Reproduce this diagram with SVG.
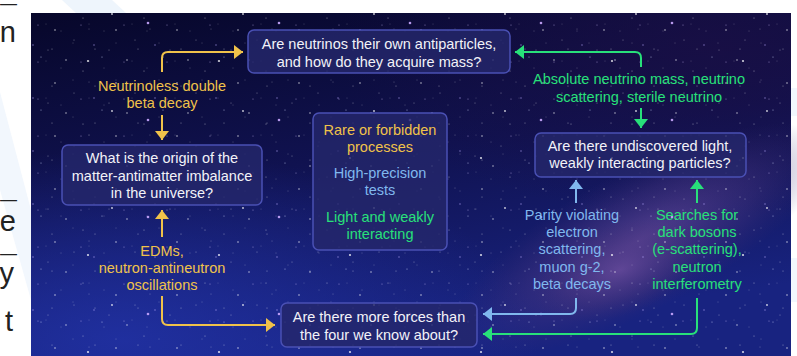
<svg xmlns="http://www.w3.org/2000/svg" width="797" height="356" viewBox="0 0 797 356">
<defs>
<style>
.box{fill:#25276b;fill-opacity:0.82;stroke:#4a50b4;stroke-width:1.5}
.t{font-family:"Liberation Sans",Arial,sans-serif;font-size:14.5px;text-anchor:middle}
.w{fill:#f2f2f8}
.y{fill:#f0c24a}
.g{fill:#28e07a}
.b{fill:#80b8ee}
.m{font-family:"Liberation Sans",Arial,sans-serif;font-size:29px;fill:#222;text-anchor:end}
.d{font-size:17px}
.cy{fill:none;stroke:#f0c24a;stroke-width:2}
.cg{fill:none;stroke:#28e07a;stroke-width:2}
.cb{fill:none;stroke:#80b8ee;stroke-width:2}
</style>
<marker id="ay" markerUnits="userSpaceOnUse" markerWidth="12" markerHeight="14" refX="9" refY="7" orient="auto"><path d="M0,0 L9,7 L0,14 Z" fill="#f0c24a"/></marker>
<marker id="ag" markerUnits="userSpaceOnUse" markerWidth="12" markerHeight="14" refX="9" refY="7" orient="auto"><path d="M0,0 L9,7 L0,14 Z" fill="#28e07a"/></marker>
<marker id="ab" markerUnits="userSpaceOnUse" markerWidth="12" markerHeight="14" refX="9" refY="7" orient="auto"><path d="M0,0 L9,7 L0,14 Z" fill="#80b8ee"/></marker>
<linearGradient id="bg" x1="0" y1="0" x2="0.3" y2="1">
<stop offset="0" stop-color="#07072a"/>
<stop offset="0.5" stop-color="#101250"/>
<stop offset="1" stop-color="#182380"/>
</linearGradient>
<radialGradient id="blueglow" cx="0.12" cy="0.95" r="0.55">
<stop offset="0" stop-color="#2233a8" stop-opacity="0.8"/>
<stop offset="1" stop-color="#2233a8" stop-opacity="0"/>
</radialGradient>
<radialGradient id="milky" cx="0.5" cy="0.5" r="0.5">
<stop offset="0" stop-color="#6a4c9c" stop-opacity="0.75"/>
<stop offset="0.6" stop-color="#4a3680" stop-opacity="0.4"/>
<stop offset="1" stop-color="#3a2a70" stop-opacity="0"/>
</radialGradient>
<radialGradient id="rdark" cx="0.9" cy="0.1" r="0.5">
<stop offset="0" stop-color="#1a0f45" stop-opacity="0.8"/>
<stop offset="1" stop-color="#1a0f45" stop-opacity="0"/>
</radialGradient>
<pattern id="stars1" width="61" height="53" patternUnits="userSpaceOnUse">
<circle cx="5" cy="7" r="0.7" fill="#fff" opacity="0.8"/>
<circle cx="22" cy="18" r="0.5" fill="#fff" opacity="0.6"/>
<circle cx="41" cy="4" r="0.6" fill="#cfd8ff" opacity="0.7"/>
<circle cx="55" cy="30" r="0.8" fill="#fff" opacity="0.7"/>
<circle cx="13" cy="40" r="0.5" fill="#fff" opacity="0.5"/>
<circle cx="33" cy="45" r="0.7" fill="#b8a8ff" opacity="0.7"/>
<circle cx="48" cy="50" r="0.5" fill="#fff" opacity="0.5"/>
<circle cx="28" cy="29" r="0.4" fill="#fff" opacity="0.6"/>
</pattern>
<pattern id="stars2" width="43" height="37" patternUnits="userSpaceOnUse">
<circle cx="9" cy="12" r="0.5" fill="#fff" opacity="0.55"/>
<circle cx="30" cy="6" r="0.45" fill="#fff" opacity="0.5"/>
<circle cx="38" cy="25" r="0.6" fill="#d0c0ff" opacity="0.6"/>
<circle cx="18" cy="31" r="0.45" fill="#fff" opacity="0.5"/>
<circle cx="3" cy="24" r="0.4" fill="#fff" opacity="0.45"/>
</pattern>
<pattern id="stars3" width="131" height="97" patternUnits="userSpaceOnUse">
<circle cx="17" cy="23" r="1.3" fill="#c9a8ff" opacity="0.9"/>
<circle cx="88" cy="61" r="1.1" fill="#fff" opacity="0.8"/>
<circle cx="112" cy="14" r="0.9" fill="#fff" opacity="0.8"/>
</pattern>
</defs>
<rect x="0" y="0" width="797" height="356" fill="#ffffff"/>
<polygon points="62,0 112,0 126,13 76,13" fill="#eef5fc"/>
<polygon points="0,92 31,210 31,300 0,190" fill="#f2f7fd"/>
<rect x="791" y="88" width="6" height="28" fill="#f2f7fd"/>
<rect x="791" y="258" width="6" height="44" fill="#f2f7fd"/>
<text class="m"><tspan class="d" x="17" y="9">—</tspan><tspan x="16" y="42">n</tspan></text>
<text class="m"><tspan class="d" x="17" y="205">—</tspan><tspan x="16" y="231">e</tspan><tspan class="d" x="17" y="259">—</tspan><tspan x="14" y="283">y</tspan><tspan x="13" y="331">t</tspan></text>
<g id="background">
<rect x="31" y="13" width="760" height="343" fill="url(#bg)"/>
<rect x="31" y="13" width="760" height="343" fill="url(#blueglow)"/>
<rect x="31" y="13" width="760" height="343" fill="url(#rdark)"/>
<ellipse cx="640" cy="240" rx="210" ry="70" transform="rotate(-28 640 240)" fill="url(#milky)"/>
<ellipse cx="620" cy="270" rx="90" ry="45" transform="rotate(-20 620 270)" fill="url(#milky)"/>
<rect x="31" y="13" width="760" height="343" fill="url(#stars1)"/>
<rect x="31" y="13" width="760" height="343" fill="url(#stars2)"/>
<rect x="31" y="13" width="760" height="343" fill="url(#stars3)"/>
</g>
<g id="connectors">
<path class="cy" d="M162,72 V58 Q162,52 168,52 H243" marker-end="url(#ay)"/>
<path class="cy" d="M162,115 V140" marker-end="url(#ay)"/>
<path class="cy" d="M162,237 V210" marker-end="url(#ay)"/>
<path class="cy" d="M162,296 V319 Q162,325 168,325 H275" marker-end="url(#ay)"/>
<path class="cg" d="M641,67 V58 Q641,52 635,52 H515" marker-end="url(#ag)"/>
<path class="cg" d="M641,108 V128" marker-end="url(#ag)"/>
<path class="cb" d="M576,203 V180" marker-end="url(#ab)"/>
<path class="cg" d="M697,203 V180" marker-end="url(#ag)"/>
<path class="cb" d="M576,298 V308 Q576,314 570,314 H483" marker-end="url(#ab)"/>
<path class="cg" d="M697,298 V328 Q697,334 691,334 H483" marker-end="url(#ag)"/>
</g>
<g id="node-neutrinos">
<rect class="box" x="248" y="30" width="262" height="43" rx="6"/>
<text class="t w" x="379" y="49">Are neutrinos their own antiparticles,</text>
<text class="t w" x="379" y="67">and how do they acquire mass?</text>
</g>
<g id="node-matter">
<rect class="box" x="62" y="145" width="200" height="60" rx="6"/>
<text class="t w" x="162" y="163">What is the origin of the</text>
<text class="t w" x="162" y="181">matter-antimatter imbalance</text>
<text class="t w" x="162" y="198">in the universe?</text>
</g>
<g id="node-light">
<rect class="box" x="535" y="133" width="211" height="44" rx="6"/>
<text class="t w" x="640" y="151">Are there undiscovered light,</text>
<text class="t w" x="640" y="168">weakly interacting particles?</text>
</g>
<g id="node-forces">
<rect class="box" x="281" y="303" width="196" height="44" rx="6"/>
<text class="t w" x="379" y="322">Are there more forces than</text>
<text class="t w" x="379" y="340">the four we know about?</text>
</g>
<g id="node-legend">
<rect class="box" x="313" y="113" width="134" height="137" rx="6"/>
<text class="t y" x="380" y="135">Rare or forbidden</text>
<text class="t y" x="380" y="152">processes</text>
<text class="t b" x="380" y="178">High-precision</text>
<text class="t b" x="380" y="195">tests</text>
<text class="t g" x="380" y="222">Light and weakly</text>
<text class="t g" x="380" y="239">interacting</text>
</g>
<g id="label-neutrinoless">
<text class="t y" x="162" y="91">Neutrinoless double</text>
<text class="t y" x="162" y="108">beta decay</text>
</g>
<g id="label-edms">
<text class="t y" x="162" y="256">EDMs,</text>
<text class="t y" x="162" y="273">neutron-antineutron</text>
<text class="t y" x="162" y="290">oscillations</text>
</g>
<g id="label-absolute">
<text class="t g" x="639" y="84">Absolute neutrino mass, neutrino</text>
<text class="t g" x="639" y="102">scattering, sterile neutrino</text>
</g>
<g id="label-parity">
<text class="t b" x="572" y="220">Parity violating</text>
<text class="t b" x="572" y="237">electron</text>
<text class="t b" x="572" y="254">scattering,</text>
<text class="t b" x="572" y="272">muon g-2,</text>
<text class="t b" x="572" y="289">beta decays</text>
</g>
<g id="label-searches">
<text class="t g" x="697" y="220">Searches for</text>
<text class="t g" x="697" y="237">dark bosons</text>
<text class="t g" x="697" y="254">(e-scattering),</text>
<text class="t g" x="697" y="272">neutron</text>
<text class="t g" x="697" y="289">interferometry</text>
</g>
</svg>
